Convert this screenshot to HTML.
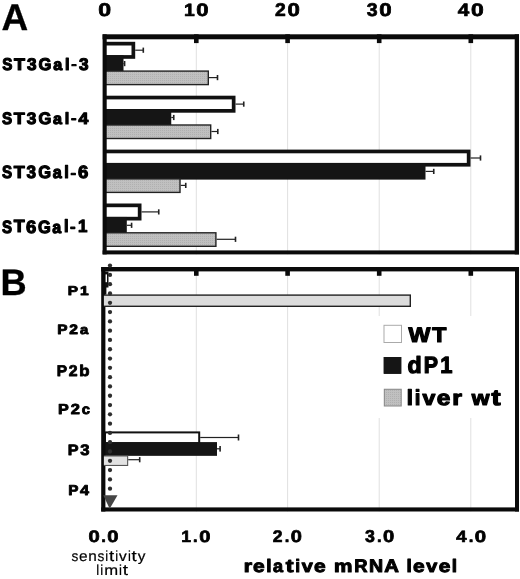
<!DOCTYPE html><html><head><meta charset="utf-8"><style>
html,body{margin:0;padding:0;background:#fff;}
svg{display:block;filter:grayscale(1);}
text{font-family:"Liberation Sans", sans-serif; text-rendering:geometricPrecision;}
</style></head><body>
<svg width="520" height="579" viewBox="0 0 520 579">
<defs>
<pattern id="hatch" width="2" height="2" patternUnits="userSpaceOnUse">
<rect width="2" height="2" fill="#c0c0c0"/>
<rect width="1" height="1" fill="#b0b0b0"/>
</pattern>
</defs>

<rect x="195.80" y="34.30" width="1.00" height="220.10" fill="#e0e0e0"/>
<rect x="287.10" y="34.30" width="1.00" height="220.10" fill="#e0e0e0"/>
<rect x="378.70" y="34.30" width="1.00" height="220.10" fill="#e0e0e0"/>
<rect x="470.30" y="34.30" width="1.00" height="220.10" fill="#e0e0e0"/>
<rect x="195.80" y="267.00" width="1.00" height="244.50" fill="#e0e0e0"/>
<rect x="287.10" y="267.00" width="1.00" height="244.50" fill="#e0e0e0"/>
<rect x="378.70" y="267.00" width="1.00" height="49.00" fill="#e0e0e0"/>
<rect x="378.70" y="418.00" width="1.00" height="93.50" fill="#e0e0e0"/>
<rect x="470.30" y="267.00" width="1.00" height="49.00" fill="#e0e0e0"/>
<rect x="470.30" y="418.00" width="1.00" height="93.50" fill="#e0e0e0"/>
<rect x="104.00" y="41.80" width="31.20" height="17.00" fill="#111"/>
<rect x="104.00" y="45.50" width="27.50" height="9.60" fill="#fff"/>
<rect x="135.20" y="49.60" width="8.10" height="1.20" fill="#222"/>
<rect x="142.50" y="47.60" width="1.60" height="5.20" fill="#222"/>
<rect x="104.00" y="55.25" width="19.50" height="16.55" fill="#151515"/>
<rect x="123.50" y="63.00" width="1.10" height="1.20" fill="#222"/>
<rect x="123.80" y="61.00" width="1.60" height="5.20" fill="#222"/>
<rect x="104.00" y="70.40" width="105.00" height="14.90" fill="#222"/>
<rect x="104.00" y="71.80" width="103.60" height="12.10" fill="url(#hatch)"/>
<rect x="209.00" y="77.00" width="8.50" height="1.20" fill="#222"/>
<rect x="216.70" y="75.00" width="1.60" height="5.20" fill="#222"/>
<rect x="104.00" y="95.70" width="131.50" height="17.00" fill="#111"/>
<rect x="104.00" y="99.40" width="127.80" height="9.60" fill="#fff"/>
<rect x="235.50" y="103.50" width="8.25" height="1.20" fill="#222"/>
<rect x="242.95" y="101.50" width="1.60" height="5.20" fill="#222"/>
<rect x="104.00" y="109.15" width="67.25" height="16.55" fill="#151515"/>
<rect x="171.25" y="116.90" width="2.50" height="1.20" fill="#222"/>
<rect x="172.95" y="114.90" width="1.60" height="5.20" fill="#222"/>
<rect x="104.00" y="124.30" width="107.40" height="14.90" fill="#222"/>
<rect x="104.00" y="125.70" width="106.00" height="12.10" fill="url(#hatch)"/>
<rect x="211.40" y="130.90" width="6.40" height="1.20" fill="#222"/>
<rect x="217.00" y="128.90" width="1.60" height="5.20" fill="#222"/>
<rect x="104.00" y="149.60" width="366.50" height="17.00" fill="#111"/>
<rect x="104.00" y="153.30" width="362.80" height="9.60" fill="#fff"/>
<rect x="470.50" y="157.40" width="10.00" height="1.20" fill="#222"/>
<rect x="479.70" y="155.40" width="1.60" height="5.20" fill="#222"/>
<rect x="104.00" y="163.05" width="321.50" height="16.55" fill="#151515"/>
<rect x="425.50" y="170.80" width="8.25" height="1.20" fill="#222"/>
<rect x="432.95" y="168.80" width="1.60" height="5.20" fill="#222"/>
<rect x="104.00" y="178.20" width="76.70" height="14.90" fill="#222"/>
<rect x="104.00" y="179.60" width="75.30" height="12.10" fill="url(#hatch)"/>
<rect x="180.70" y="184.80" width="5.05" height="1.20" fill="#222"/>
<rect x="184.95" y="182.80" width="1.60" height="5.20" fill="#222"/>
<rect x="104.00" y="203.50" width="37.50" height="17.00" fill="#111"/>
<rect x="104.00" y="207.20" width="33.80" height="9.60" fill="#fff"/>
<rect x="141.50" y="211.30" width="17.25" height="1.20" fill="#222"/>
<rect x="157.95" y="209.30" width="1.60" height="5.20" fill="#222"/>
<rect x="104.00" y="216.95" width="22.80" height="16.55" fill="#151515"/>
<rect x="126.80" y="224.70" width="4.80" height="1.20" fill="#222"/>
<rect x="130.80" y="222.70" width="1.60" height="5.20" fill="#222"/>
<rect x="104.00" y="232.10" width="112.60" height="14.90" fill="#222"/>
<rect x="104.00" y="233.50" width="111.20" height="12.10" fill="url(#hatch)"/>
<rect x="216.60" y="238.70" width="18.90" height="1.20" fill="#222"/>
<rect x="234.70" y="236.70" width="1.60" height="5.20" fill="#222"/>
<rect x="104.00" y="431.40" width="96.20" height="12.90" fill="#111"/>
<rect x="106.00" y="433.40" width="92.20" height="8.90" fill="#fff"/>
<rect x="200.20" y="436.90" width="38.30" height="1.20" fill="#222"/>
<rect x="237.70" y="434.50" width="1.60" height="6.00" fill="#222"/>
<rect x="104.00" y="442.30" width="113.00" height="13.30" fill="#151515"/>
<rect x="104.00" y="442.30" width="113.00" height="13.30" fill="#151515"/>
<rect x="217.00" y="448.20" width="3.10" height="1.20" fill="#222"/>
<rect x="219.30" y="446.00" width="1.60" height="5.60" fill="#222"/>
<rect x="104.00" y="271.50" width="4.50" height="16.00" fill="#111"/>
<rect x="105.30" y="274.40" width="1.70" height="7.80" fill="#fff"/>
<rect x="104.00" y="286.00" width="2.40" height="8.40" fill="#111"/>
<rect x="102.60" y="34.30" width="416.40" height="5.00" fill="#0a0a0a"/>
<rect x="102.60" y="250.40" width="416.40" height="4.00" fill="#0a0a0a"/>
<rect x="102.60" y="34.30" width="4.10" height="220.10" fill="#0a0a0a"/>
<rect x="514.70" y="34.30" width="4.30" height="220.10" fill="#0a0a0a"/>
<rect x="101.20" y="267.00" width="417.80" height="4.40" fill="#0a0a0a"/>
<rect x="101.20" y="507.40" width="417.80" height="4.10" fill="#0a0a0a"/>
<rect x="101.20" y="267.00" width="4.20" height="244.50" fill="#0a0a0a"/>
<rect x="515.00" y="267.00" width="4.00" height="244.50" fill="#0a0a0a"/>
<rect x="194.00" y="34.30" width="4.60" height="8.80" fill="#0a0a0a"/>
<rect x="194.00" y="267.00" width="4.60" height="8.80" fill="#0a0a0a"/>
<rect x="285.30" y="34.30" width="4.60" height="8.80" fill="#0a0a0a"/>
<rect x="285.30" y="267.00" width="4.60" height="8.80" fill="#0a0a0a"/>
<rect x="376.90" y="34.30" width="4.60" height="8.80" fill="#0a0a0a"/>
<rect x="376.90" y="267.00" width="4.60" height="8.80" fill="#0a0a0a"/>
<rect x="468.50" y="34.30" width="4.60" height="8.80" fill="#0a0a0a"/>
<rect x="468.50" y="267.00" width="4.60" height="8.80" fill="#0a0a0a"/>
<rect x="103.90" y="294.40" width="307.10" height="12.60" fill="#222"/>
<rect x="103.90" y="295.80" width="305.70" height="9.80" fill="#dcdcdc"/>
<rect x="103.90" y="455.40" width="24.30" height="10.60" fill="#555"/>
<rect x="103.90" y="456.50" width="23.20" height="8.40" fill="#e2e2e2"/>
<rect x="128.20" y="459.10" width="11.50" height="1.20" fill="#222"/>
<rect x="138.90" y="457.10" width="1.60" height="5.20" fill="#222"/>
<circle cx="110.0" cy="265.60" r="2.15" fill="#2e2e2e"/>
<circle cx="110.0" cy="274.90" r="2.15" fill="#2e2e2e"/>
<circle cx="110.0" cy="284.19" r="2.15" fill="#2e2e2e"/>
<circle cx="110.0" cy="293.49" r="2.15" fill="#2e2e2e"/>
<circle cx="110.0" cy="302.78" r="2.15" fill="#2e2e2e"/>
<circle cx="110.0" cy="312.08" r="2.15" fill="#2e2e2e"/>
<circle cx="110.0" cy="321.38" r="2.15" fill="#2e2e2e"/>
<circle cx="110.0" cy="330.67" r="2.15" fill="#2e2e2e"/>
<circle cx="110.0" cy="339.97" r="2.15" fill="#2e2e2e"/>
<circle cx="110.0" cy="349.26" r="2.15" fill="#2e2e2e"/>
<circle cx="110.0" cy="358.56" r="2.15" fill="#2e2e2e"/>
<circle cx="110.0" cy="367.86" r="2.15" fill="#2e2e2e"/>
<circle cx="110.0" cy="377.15" r="2.15" fill="#2e2e2e"/>
<circle cx="110.0" cy="386.45" r="2.15" fill="#2e2e2e"/>
<circle cx="110.0" cy="395.74" r="2.15" fill="#2e2e2e"/>
<circle cx="110.0" cy="405.04" r="2.15" fill="#2e2e2e"/>
<circle cx="110.0" cy="414.34" r="2.15" fill="#2e2e2e"/>
<circle cx="110.0" cy="423.63" r="2.15" fill="#2e2e2e"/>
<circle cx="110.0" cy="432.93" r="2.15" fill="#2e2e2e"/>
<circle cx="110.0" cy="442.22" r="2.15" fill="#2e2e2e"/>
<circle cx="110.0" cy="451.52" r="2.15" fill="#2e2e2e"/>
<circle cx="110.0" cy="460.82" r="2.15" fill="#2e2e2e"/>
<circle cx="110.0" cy="470.11" r="2.15" fill="#2e2e2e"/>
<circle cx="110.0" cy="479.41" r="2.15" fill="#2e2e2e"/>
<circle cx="110.0" cy="488.70" r="2.15" fill="#2e2e2e"/>
<polygon points="103.3,495.2 117.5,495.2 109.7,508.8" fill="#454545"/>
<rect x="383.50" y="324.80" width="18.50" height="18.20" fill="#aaa"/>
<rect x="384.50" y="325.80" width="16.50" height="16.20" fill="#fff"/>
<rect x="383.75" y="357.00" width="17.50" height="16.75" fill="#151515"/>
<rect x="383.75" y="357.00" width="17.50" height="16.75" fill="#151515"/>
<rect x="383.80" y="388.75" width="17.95" height="17.75" fill="#888"/>
<rect x="384.80" y="389.75" width="15.95" height="15.75" fill="url(#hatch)"/>
<text font-weight="bold" fill="#000" stroke="#000" stroke-width="0.30" stroke-linejoin="round"><tspan x="1.53" y="29.65" font-size="37.06" textLength="26.70" lengthAdjust="spacingAndGlyphs">A</tspan></text>
<text font-weight="bold" fill="#000" stroke="#000" stroke-width="0.30" stroke-linejoin="round"><tspan x="0.52" y="294.55" font-size="36.92" textLength="26.18" lengthAdjust="spacingAndGlyphs">B</tspan></text>
<text font-weight="bold" fill="#000" stroke="#000" stroke-width="1.15" stroke-linejoin="round"><tspan x="2.18" y="70.01" font-size="16.94" textLength="10.15" lengthAdjust="spacingAndGlyphs">S</tspan><tspan x="14.05" y="69.93" font-size="16.74" textLength="11.01" lengthAdjust="spacingAndGlyphs">T</tspan><tspan x="26.95" y="69.99" font-size="16.91" textLength="9.54" lengthAdjust="spacingAndGlyphs">3</tspan><tspan x="38.62" y="70.01" font-size="16.94" textLength="12.89" lengthAdjust="spacingAndGlyphs">G</tspan><tspan x="53.21" y="70.02" font-size="16.12" textLength="8.98" lengthAdjust="spacingAndGlyphs">a</tspan><tspan x="64.98" y="69.93" font-size="16.64" textLength="4.54" lengthAdjust="spacingAndGlyphs">l</tspan><tspan x="71.45" y="68.37" font-size="11.07" textLength="5.00" lengthAdjust="spacingAndGlyphs">-</tspan><tspan x="79.00" y="69.99" font-size="16.91" textLength="9.54" lengthAdjust="spacingAndGlyphs">3</tspan></text>
<text font-weight="bold" fill="#000" stroke="#000" stroke-width="1.15" stroke-linejoin="round"><tspan x="1.99" y="123.86" font-size="16.60" textLength="10.13" lengthAdjust="spacingAndGlyphs">S</tspan><tspan x="13.86" y="123.78" font-size="16.40" textLength="10.99" lengthAdjust="spacingAndGlyphs">T</tspan><tspan x="26.76" y="123.84" font-size="16.56" textLength="9.52" lengthAdjust="spacingAndGlyphs">3</tspan><tspan x="38.44" y="123.86" font-size="16.60" textLength="12.86" lengthAdjust="spacingAndGlyphs">G</tspan><tspan x="53.02" y="123.87" font-size="15.78" textLength="8.96" lengthAdjust="spacingAndGlyphs">a</tspan><tspan x="64.80" y="123.78" font-size="16.30" textLength="4.50" lengthAdjust="spacingAndGlyphs">l</tspan><tspan x="71.28" y="122.22" font-size="10.69" textLength="4.94" lengthAdjust="spacingAndGlyphs">-</tspan><tspan x="78.57" y="123.78" font-size="16.40" textLength="9.80" lengthAdjust="spacingAndGlyphs">4</tspan></text>
<text font-weight="bold" fill="#000" stroke="#000" stroke-width="1.15" stroke-linejoin="round"><tspan x="1.96" y="178.45" font-size="17.70" textLength="10.13" lengthAdjust="spacingAndGlyphs">S</tspan><tspan x="13.74" y="178.37" font-size="17.50" textLength="10.99" lengthAdjust="spacingAndGlyphs">T</tspan><tspan x="26.57" y="178.43" font-size="17.66" textLength="9.53" lengthAdjust="spacingAndGlyphs">3</tspan><tspan x="38.16" y="178.45" font-size="17.70" textLength="12.85" lengthAdjust="spacingAndGlyphs">G</tspan><tspan x="52.65" y="178.46" font-size="16.86" textLength="8.97" lengthAdjust="spacingAndGlyphs">a</tspan><tspan x="64.35" y="178.37" font-size="17.38" textLength="4.58" lengthAdjust="spacingAndGlyphs">l</tspan><tspan x="70.75" y="176.83" font-size="11.92" textLength="5.09" lengthAdjust="spacingAndGlyphs">-</tspan><tspan x="77.95" y="178.45" font-size="17.68" textLength="10.31" lengthAdjust="spacingAndGlyphs">6</tspan></text>
<text font-weight="bold" fill="#000" stroke="#000" stroke-width="1.15" stroke-linejoin="round"><tspan x="1.95" y="232.55" font-size="17.84" textLength="10.07" lengthAdjust="spacingAndGlyphs">S</tspan><tspan x="13.67" y="232.47" font-size="17.63" textLength="10.93" lengthAdjust="spacingAndGlyphs">T</tspan><tspan x="26.09" y="232.55" font-size="17.81" textLength="10.26" lengthAdjust="spacingAndGlyphs">6</tspan><tspan x="37.93" y="232.55" font-size="17.84" textLength="12.78" lengthAdjust="spacingAndGlyphs">G</tspan><tspan x="52.33" y="232.56" font-size="17.00" textLength="8.92" lengthAdjust="spacingAndGlyphs">a</tspan><tspan x="63.95" y="232.47" font-size="17.52" textLength="4.57" lengthAdjust="spacingAndGlyphs">l</tspan><tspan x="70.32" y="230.93" font-size="12.08" textLength="5.08" lengthAdjust="spacingAndGlyphs">-</tspan><tspan x="77.93" y="232.47" font-size="17.63" textLength="9.39" lengthAdjust="spacingAndGlyphs">1</tspan></text>
<text font-weight="bold" fill="#000" stroke="#000" stroke-width="0.70" stroke-linejoin="round"><tspan x="98.27" y="16.17" font-size="18.50" textLength="12.84" lengthAdjust="spacingAndGlyphs">0</tspan></text>
<text font-weight="bold" fill="#000" stroke="#000" stroke-width="0.70" stroke-linejoin="round"><tspan x="183.91" y="15.80" font-size="17.76" textLength="10.75" lengthAdjust="spacingAndGlyphs">1</tspan><tspan x="196.27" y="15.87" font-size="17.94" textLength="12.30" lengthAdjust="spacingAndGlyphs">0</tspan></text>
<text font-weight="bold" fill="#000" stroke="#000" stroke-width="0.70" stroke-linejoin="round"><tspan x="275.10" y="15.89" font-size="18.39" textLength="10.76" lengthAdjust="spacingAndGlyphs">2</tspan><tspan x="287.55" y="15.97" font-size="18.50" textLength="12.34" lengthAdjust="spacingAndGlyphs">0</tspan></text>
<text font-weight="bold" fill="#000" stroke="#000" stroke-width="0.70" stroke-linejoin="round"><tspan x="366.82" y="15.94" font-size="18.46" textLength="10.87" lengthAdjust="spacingAndGlyphs">3</tspan><tspan x="379.32" y="15.97" font-size="18.50" textLength="12.37" lengthAdjust="spacingAndGlyphs">0</tspan></text>
<text font-weight="bold" fill="#000" stroke="#000" stroke-width="0.70" stroke-linejoin="round"><tspan x="457.79" y="15.60" font-size="17.90" textLength="11.49" lengthAdjust="spacingAndGlyphs">4</tspan><tspan x="470.96" y="15.67" font-size="18.08" textLength="12.74" lengthAdjust="spacingAndGlyphs">0</tspan></text>
<text font-weight="bold" fill="#000" stroke="#000" stroke-width="0.85" stroke-linejoin="round"><tspan x="67.79" y="295.18" font-size="12.72" textLength="10.23" lengthAdjust="spacingAndGlyphs">P</tspan><tspan x="80.03" y="295.18" font-size="12.72" textLength="8.69" lengthAdjust="spacingAndGlyphs">1</tspan></text>
<text font-weight="bold" fill="#000" stroke="#000" stroke-width="0.85" stroke-linejoin="round"><tspan x="57.15" y="334.38" font-size="13.61" textLength="10.25" lengthAdjust="spacingAndGlyphs">P</tspan><tspan x="69.23" y="334.38" font-size="13.68" textLength="8.72" lengthAdjust="spacingAndGlyphs">2</tspan><tspan x="79.95" y="334.45" font-size="13.14" textLength="8.28" lengthAdjust="spacingAndGlyphs">a</tspan></text>
<text font-weight="bold" fill="#000" stroke="#000" stroke-width="0.85" stroke-linejoin="round"><tspan x="56.69" y="375.55" font-size="15.47" textLength="10.31" lengthAdjust="spacingAndGlyphs">P</tspan><tspan x="68.70" y="375.55" font-size="15.54" textLength="8.79" lengthAdjust="spacingAndGlyphs">2</tspan><tspan x="79.37" y="375.62" font-size="15.46" textLength="10.26" lengthAdjust="spacingAndGlyphs">b</tspan></text>
<text font-weight="bold" fill="#000" stroke="#000" stroke-width="0.85" stroke-linejoin="round"><tspan x="58.09" y="414.37" font-size="14.46" textLength="10.77" lengthAdjust="spacingAndGlyphs">P</tspan><tspan x="70.71" y="414.37" font-size="14.52" textLength="9.17" lengthAdjust="spacingAndGlyphs">2</tspan><tspan x="81.76" y="414.44" font-size="13.97" textLength="8.23" lengthAdjust="spacingAndGlyphs">c</tspan></text>
<text font-weight="bold" fill="#000" stroke="#000" stroke-width="0.85" stroke-linejoin="round"><tspan x="67.68" y="454.96" font-size="15.02" textLength="10.79" lengthAdjust="spacingAndGlyphs">P</tspan><tspan x="80.27" y="455.00" font-size="15.15" textLength="9.27" lengthAdjust="spacingAndGlyphs">3</tspan></text>
<text font-weight="bold" fill="#000" stroke="#000" stroke-width="0.85" stroke-linejoin="round"><tspan x="68.24" y="494.57" font-size="14.17" textLength="10.20" lengthAdjust="spacingAndGlyphs">P</tspan><tspan x="79.99" y="494.57" font-size="14.17" textLength="9.01" lengthAdjust="spacingAndGlyphs">4</tspan></text>
<text font-weight="bold" fill="#000" stroke="#000" stroke-width="1.20" stroke-linejoin="round"><tspan x="408.44" y="341.90" font-size="20.93" textLength="21.88" lengthAdjust="spacingAndGlyphs">W</tspan><tspan x="432.17" y="341.90" font-size="20.93" textLength="14.12" lengthAdjust="spacingAndGlyphs">T</tspan></text>
<text font-weight="bold" fill="#000" stroke="#000" stroke-width="1.20" stroke-linejoin="round"><tspan x="407.44" y="373.37" font-size="23.42" textLength="14.22" lengthAdjust="spacingAndGlyphs">d</tspan><tspan x="423.70" y="373.26" font-size="23.45" textLength="14.28" lengthAdjust="spacingAndGlyphs">P</tspan><tspan x="440.36" y="373.26" font-size="23.45" textLength="12.19" lengthAdjust="spacingAndGlyphs">1</tspan></text>
<text font-weight="bold" fill="#000" stroke="#000" stroke-width="1.20" stroke-linejoin="round"><tspan x="406.84" y="404.88" font-size="21.78" textLength="6.18" lengthAdjust="spacingAndGlyphs">l</tspan><tspan x="414.82" y="404.88" font-size="21.78" textLength="5.67" lengthAdjust="spacingAndGlyphs">i</tspan><tspan x="422.40" y="404.88" font-size="20.87" textLength="12.82" lengthAdjust="spacingAndGlyphs">v</tspan><tspan x="436.81" y="404.99" font-size="21.24" textLength="13.57" lengthAdjust="spacingAndGlyphs">e</tspan><tspan x="452.27" y="404.88" font-size="21.02" textLength="9.71" lengthAdjust="spacingAndGlyphs">r</tspan> <tspan x="471.69" y="404.88" font-size="20.87" textLength="17.73" lengthAdjust="spacingAndGlyphs">w</tspan><tspan x="491.60" y="404.69" font-size="21.93" textLength="9.08" lengthAdjust="spacingAndGlyphs">t</tspan></text>
<text font-weight="bold" fill="#000" stroke="#000" stroke-width="0.70" stroke-linejoin="round"><tspan x="88.47" y="541.99" font-size="16.67" textLength="11.25" lengthAdjust="spacingAndGlyphs">0</tspan><tspan x="101.17" y="541.92" font-size="16.27" textLength="4.63" lengthAdjust="spacingAndGlyphs">.</tspan><tspan x="107.25" y="541.99" font-size="16.67" textLength="11.25" lengthAdjust="spacingAndGlyphs">0</tspan></text>
<text font-weight="bold" fill="#000" stroke="#000" stroke-width="0.70" stroke-linejoin="round"><tspan x="181.17" y="541.72" font-size="16.21" textLength="9.81" lengthAdjust="spacingAndGlyphs">1</tspan><tspan x="193.09" y="541.72" font-size="15.93" textLength="4.60" lengthAdjust="spacingAndGlyphs">.</tspan><tspan x="199.16" y="541.79" font-size="16.38" textLength="11.23" lengthAdjust="spacingAndGlyphs">0</tspan></text>
<text font-weight="bold" fill="#000" stroke="#000" stroke-width="0.70" stroke-linejoin="round"><tspan x="272.86" y="541.71" font-size="16.85" textLength="9.73" lengthAdjust="spacingAndGlyphs">2</tspan><tspan x="284.74" y="541.71" font-size="16.61" textLength="4.60" lengthAdjust="spacingAndGlyphs">.</tspan><tspan x="290.76" y="541.78" font-size="16.95" textLength="11.15" lengthAdjust="spacingAndGlyphs">0</tspan></text>
<text font-weight="bold" fill="#000" stroke="#000" stroke-width="0.70" stroke-linejoin="round"><tspan x="364.95" y="541.96" font-size="17.20" textLength="9.88" lengthAdjust="spacingAndGlyphs">3</tspan><tspan x="376.92" y="541.91" font-size="16.94" textLength="4.65" lengthAdjust="spacingAndGlyphs">.</tspan><tspan x="382.98" y="541.98" font-size="17.23" textLength="11.24" lengthAdjust="spacingAndGlyphs">0</tspan></text>
<text font-weight="bold" fill="#000" stroke="#000" stroke-width="0.70" stroke-linejoin="round"><tspan x="456.27" y="541.72" font-size="16.21" textLength="10.27" lengthAdjust="spacingAndGlyphs">4</tspan><tspan x="468.68" y="541.72" font-size="15.93" textLength="4.66" lengthAdjust="spacingAndGlyphs">.</tspan><tspan x="474.83" y="541.79" font-size="16.38" textLength="11.37" lengthAdjust="spacingAndGlyphs">0</tspan></text>
<text font-weight="normal" fill="#000" stroke="#000" stroke-width="0.20" stroke-linejoin="round"><tspan x="71.61" y="560.99" font-size="14.62" textLength="6.82" lengthAdjust="spacingAndGlyphs">s</tspan><tspan x="79.01" y="560.99" font-size="14.58" textLength="8.57" lengthAdjust="spacingAndGlyphs">e</tspan><tspan x="88.20" y="560.93" font-size="14.47" textLength="8.52" lengthAdjust="spacingAndGlyphs">n</tspan><tspan x="97.59" y="560.99" font-size="14.62" textLength="6.82" lengthAdjust="spacingAndGlyphs">s</tspan><tspan x="105.33" y="560.93" font-size="14.68" textLength="2.89" lengthAdjust="spacingAndGlyphs">i</tspan><tspan x="109.04" y="560.82" font-size="15.00" textLength="5.18" lengthAdjust="spacingAndGlyphs">t</tspan><tspan x="115.16" y="560.93" font-size="14.68" textLength="2.89" lengthAdjust="spacingAndGlyphs">i</tspan><tspan x="119.13" y="560.93" font-size="14.38" textLength="7.70" lengthAdjust="spacingAndGlyphs">v</tspan><tspan x="127.92" y="560.93" font-size="14.68" textLength="2.89" lengthAdjust="spacingAndGlyphs">i</tspan><tspan x="131.63" y="560.82" font-size="15.00" textLength="5.18" lengthAdjust="spacingAndGlyphs">t</tspan><tspan x="137.66" y="560.92" font-size="14.36" textLength="7.66" lengthAdjust="spacingAndGlyphs">y</tspan></text>
<text font-weight="normal" fill="#000" stroke="#000" stroke-width="0.20" stroke-linejoin="round"><tspan x="96.20" y="574.70" font-size="14.63" textLength="2.94" lengthAdjust="spacingAndGlyphs">l</tspan><tspan x="100.36" y="574.70" font-size="14.63" textLength="2.94" lengthAdjust="spacingAndGlyphs">i</tspan><tspan x="104.26" y="574.70" font-size="14.42" textLength="13.91" lengthAdjust="spacingAndGlyphs">m</tspan><tspan x="119.06" y="574.70" font-size="14.63" textLength="2.94" lengthAdjust="spacingAndGlyphs">i</tspan><tspan x="122.84" y="574.58" font-size="14.95" textLength="5.27" lengthAdjust="spacingAndGlyphs">t</tspan></text>
<text font-weight="bold" fill="#000" stroke="#000" stroke-width="1.00" stroke-linejoin="round"><tspan x="243.80" y="571.74" font-size="17.49" textLength="8.33" lengthAdjust="spacingAndGlyphs">r</tspan><tspan x="253.08" y="571.83" font-size="17.68" textLength="11.65" lengthAdjust="spacingAndGlyphs">e</tspan><tspan x="266.16" y="571.74" font-size="18.13" textLength="5.30" lengthAdjust="spacingAndGlyphs">l</tspan><tspan x="272.95" y="571.83" font-size="17.68" textLength="10.04" lengthAdjust="spacingAndGlyphs">a</tspan><tspan x="285.74" y="571.58" font-size="18.25" textLength="7.79" lengthAdjust="spacingAndGlyphs">t</tspan><tspan x="295.21" y="571.74" font-size="18.13" textLength="4.87" lengthAdjust="spacingAndGlyphs">i</tspan><tspan x="301.72" y="571.74" font-size="17.37" textLength="11.00" lengthAdjust="spacingAndGlyphs">v</tspan><tspan x="314.08" y="571.83" font-size="17.68" textLength="11.65" lengthAdjust="spacingAndGlyphs">e</tspan> <tspan x="334.07" y="571.74" font-size="17.49" textLength="18.41" lengthAdjust="spacingAndGlyphs">m</tspan><tspan x="354.35" y="571.74" font-size="18.26" textLength="13.27" lengthAdjust="spacingAndGlyphs">R</tspan><tspan x="369.13" y="571.74" font-size="18.26" textLength="14.14" lengthAdjust="spacingAndGlyphs">N</tspan><tspan x="384.39" y="571.74" font-size="18.26" textLength="14.64" lengthAdjust="spacingAndGlyphs">A</tspan> <tspan x="406.47" y="571.74" font-size="18.13" textLength="5.30" lengthAdjust="spacingAndGlyphs">l</tspan><tspan x="413.05" y="571.83" font-size="17.68" textLength="11.65" lengthAdjust="spacingAndGlyphs">e</tspan><tspan x="426.29" y="571.74" font-size="17.37" textLength="11.00" lengthAdjust="spacingAndGlyphs">v</tspan><tspan x="438.66" y="571.83" font-size="17.68" textLength="11.65" lengthAdjust="spacingAndGlyphs">e</tspan><tspan x="451.74" y="571.74" font-size="18.13" textLength="5.30" lengthAdjust="spacingAndGlyphs">l</tspan></text>
</svg></body></html>
